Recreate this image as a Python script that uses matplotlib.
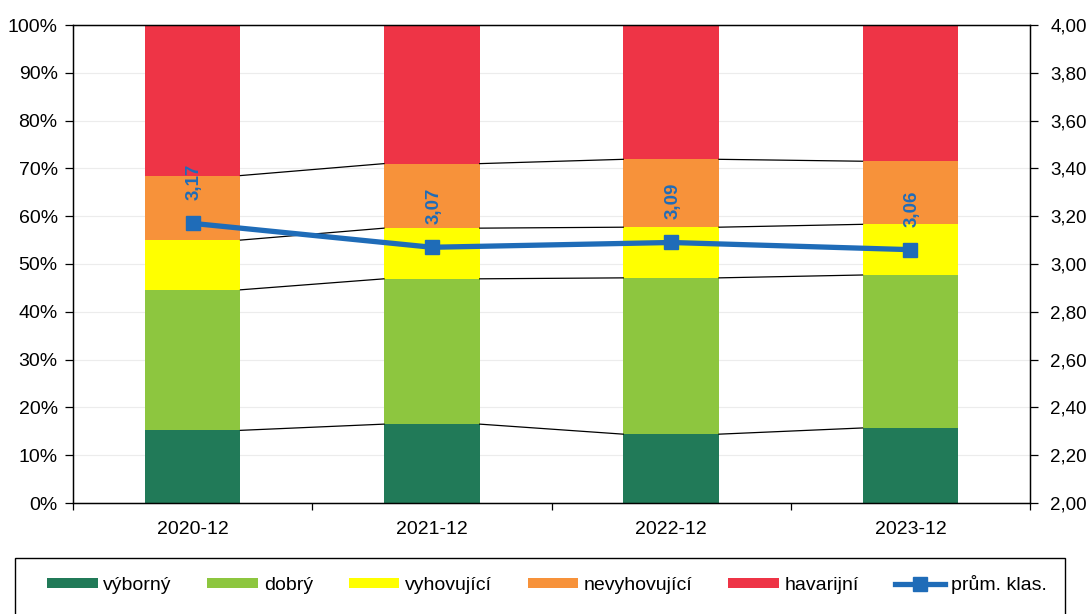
import matplotlib
matplotlib.use("Agg")
import matplotlib.pyplot as plt
from matplotlib.patches import Rectangle
from matplotlib.ticker import FuncFormatter, MultipleLocator, FixedLocator
import numpy as np

plt.rcParams['font.family'] = ['Liberation Sans', 'DejaVu Sans']

categories = ["2020-12", "2021-12", "2022-12", "2023-12"]
vyborny = [15.2, 16.5, 14.4, 15.7]
dobry = [29.4, 30.4, 32.7, 32.0]
vyhovujici = [10.4, 10.6, 10.6, 10.6]
nevyhovujici = [13.5, 13.5, 14.2, 13.2]
havarijni = [31.5, 29.0, 28.1, 28.5]
prum_klas = [3.17, 3.07, 3.09, 3.06]

series_names = ["výborný", "dobrý", "vyhovující", "nevyhovující", "havarijní"]
series_vals = [vyborny, dobry, vyhovujici, nevyhovujici, havarijni]
colors = ["#217A58", "#8DC63F", "#FFFF00", "#F7923A", "#EE3446"]
line_name = "prům. klas."
line_color = "#1F6CB8"

W, H = 1090, 614
fig = plt.figure(figsize=(W / 100, H / 100), dpi=100)
ax = fig.add_axes([73 / W, 1 - 503 / H, (1030 - 73) / W, (503 - 25) / H])

x = np.arange(len(categories))
bw = 0.4
bottom = np.zeros(len(categories))
handles = []
tops = []
for name, vals, c in zip(series_names, series_vals, colors):
    v = np.array(vals, dtype=float)
    b = ax.bar(x, v, bw, bottom=bottom, color=c, label=name, zorder=2, linewidth=0)
    handles.append(b)
    bottom = bottom + v
    tops.append(bottom.copy())

# series lines between bars
for t in tops[:-1]:
    for i in range(len(categories) - 1):
        ax.plot([x[i] + bw / 2, x[i + 1] - bw / 2], [t[i], t[i + 1]],
                color="black", lw=0.9, zorder=3)

ax.set_xlim(-0.5, len(categories) - 0.5)
ax.set_ylim(0, 100)
ax.yaxis.set_major_locator(MultipleLocator(10))
ax.yaxis.set_major_formatter(FuncFormatter(lambda v, p: f"{int(round(v))}%"))
ax.grid(axis='y', color="#ececec", lw=0.8, zorder=0)
ax.set_axisbelow(True)

ax.set_xticks(x)
ax.set_xticklabels(categories)
ax.xaxis.set_minor_locator(FixedLocator(np.arange(-0.5, len(categories), 1.0)))
ax.tick_params(axis='x', which='major', length=0, pad=13, labelsize=14)
ax.tick_params(axis='x', which='minor', length=5, width=0.9, direction='out')
ax.tick_params(axis='y', length=6, width=0.9, direction='out', pad=5, labelsize=14)
for s in ax.spines.values():
    s.set_color("black")
    s.set_linewidth(1.0)

ax2 = ax.twinx()
ax2.set_ylim(2, 4)
ax2.yaxis.set_major_locator(MultipleLocator(0.2))
ax2.yaxis.set_major_formatter(FuncFormatter(lambda v, p: f"{v:.2f}".replace('.', ',')))
ax2.tick_params(axis='y', length=6, width=0.9, direction='out', pad=8.5, labelsize=13.5)
ln, = ax2.plot(x, prum_klas, color=line_color, lw=3.8, marker='s', markersize=9.5,
               label=line_name, zorder=5)
for xi, v in zip(x, prum_klas):
    ax2.annotate(f"{v:.2f}".replace('.', ','), (xi, v), xytext=(2, 23),
                 textcoords='offset pixels', rotation=90, ha='center', va='bottom',
                 color=line_color, fontsize=13.5, fontweight='bold')

# legend frame
fig.add_artist(Rectangle((15 / W, 1 - 620 / H), (1065 - 15) / W, (620 - 558) / H,
                         transform=fig.transFigure, fill=False, edgecolor='black',
                         lw=1.0))
leg = fig.legend(handles + [ln], series_names + [line_name], loc='upper left',
                 bbox_to_anchor=(47 / W, 1 - 575 / H, (1047 - 47) / W, 0),
                 mode='expand', ncol=6, frameon=False, fontsize=14,
                 handlelength=2.6, handleheight=0.45, handletextpad=0.3,
                 borderaxespad=0, borderpad=0, columnspacing=1.5)

fig.savefig("out.png", dpi=100)
